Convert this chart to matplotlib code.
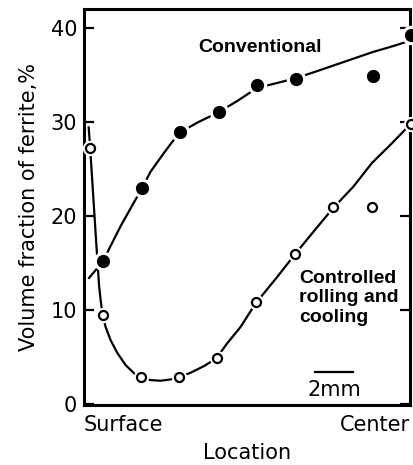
import matplotlib
matplotlib.use("Agg")
import matplotlib.pyplot as plt

plt.rcParams['font.family'] = ['DejaVu Sans']

# --- DATA ---
# x in units of 2 mm from the surface
conv_x = [0.5, 1.5, 2.5, 3.5, 4.5, 5.5, 7.5, 8.5]
conv_y = [15.2, 23.0, 28.9, 31.0, 33.9, 34.5, 34.9, 39.2]

ctrl_x = [0.15, 0.5, 1.48, 2.47, 3.45, 4.47, 5.48, 6.47, 7.48, 8.5]
ctrl_y = [27.2, 9.5, 2.9, 2.9, 4.9, 10.9, 15.9, 20.9, 20.9, 29.8]

# hand-drawn fitted curves
conv_curve_x = [0.13, 0.48, 0.95, 1.5, 1.73, 2.08, 2.3, 2.51, 2.94, 3.49,
                3.98, 4.5, 5.0, 5.48, 6.0, 6.5, 7.0, 7.5, 8.0, 8.47]
conv_curve_y = [13.4, 15.1, 18.9, 22.9, 24.7, 26.7, 27.9, 28.9, 29.9, 31.0,
                32.2, 33.6, 34.1, 34.6, 35.3, 36.0, 36.7, 37.4, 38.0, 38.6]

ctrl_curve_x = [0.12, 0.16, 0.2, 0.3, 0.39, 0.43, 0.48, 0.56, 0.69, 0.87,
                1.08, 1.30, 1.47, 1.73, 1.99, 2.25, 2.45, 2.77, 3.12, 3.44,
                3.72, 4.07, 4.46, 5.0, 5.48, 6.0, 6.47, 7.0, 7.48, 8.0, 8.5]
ctrl_curve_y = [29.4, 27.2, 24.6, 18.2, 12.6, 11.1, 9.5, 8.2, 6.8, 5.4,
                4.15, 3.27, 2.84, 2.55, 2.48, 2.62, 2.84, 3.33, 4.04, 4.86,
                6.45, 8.2, 10.7, 13.4, 15.9, 18.5, 20.8, 23.1, 25.6, 27.7, 29.8]

fig = plt.figure(figsize=(4.14, 4.65), dpi=100)
ax = fig.add_axes([0.203, 0.129, 0.787, 0.852])

ax.plot(conv_curve_x, conv_curve_y, color='black', lw=1.6, clip_on=False,
        zorder=2, solid_joinstyle='round')
ax.plot(ctrl_curve_x, ctrl_curve_y, color='black', lw=1.6, clip_on=False,
        zorder=2, solid_joinstyle='round')

# white halo to break the line round each marker
ax.plot(conv_x, conv_y, 'o', ms=13, color='white', mec='white', clip_on=False, zorder=3)
ax.plot(conv_x, conv_y, 'o', ms=8.5, color='black', mec='black', clip_on=False, zorder=4)
ax.plot(ctrl_x, ctrl_y, 'o', ms=10, color='white', mec='white', clip_on=False, zorder=3)
ax.plot(ctrl_x, ctrl_y, 'o', ms=6.5, mfc='white', mec='black', mew=1.6,
        clip_on=False, zorder=4)

ax.text(4.57, 37.9, 'Conventional', ha='center', va='center',
        fontsize=14, fontweight='bold', family='Liberation Sans')
ax.text(5.6, 14.3, 'Controlled\nrolling and\ncooling', ha='left', va='top',
        fontsize=14, fontweight='bold', linespacing=1.22, family='Liberation Sans')

# scale bar: one unit = 2 mm
ax.plot([6.0, 7.0], [3.4, 3.4], color='black', lw=1.6)
ax.text(6.5, 1.5, '2mm', ha='center', va='center', fontsize=15)

ax.set_xlim(0, 8.47)
ax.set_ylim(-0.1, 42)
ax.set_yticks([0, 10, 20, 30, 40])
ax.set_xticks([0, 8.47])
ax.set_xticklabels(['Surface', 'Center'], fontsize=15)
ax.get_xticklabels()[0].set_ha('left')
ax.get_xticklabels()[1].set_ha('right')
ax.tick_params(axis='x', length=0, pad=7)
ax.tick_params(axis='y', direction='in', length=7, width=1.6, labelsize=15,
               right=True, pad=5)
for s in ax.spines.values():
    s.set_linewidth(2.2)

ax.set_xlabel('Location', fontsize=15, labelpad=6)
ax.set_ylabel('Volume fraction of ferrite,%', fontsize=15, labelpad=8)

fig.savefig('out.png', dpi=100)
